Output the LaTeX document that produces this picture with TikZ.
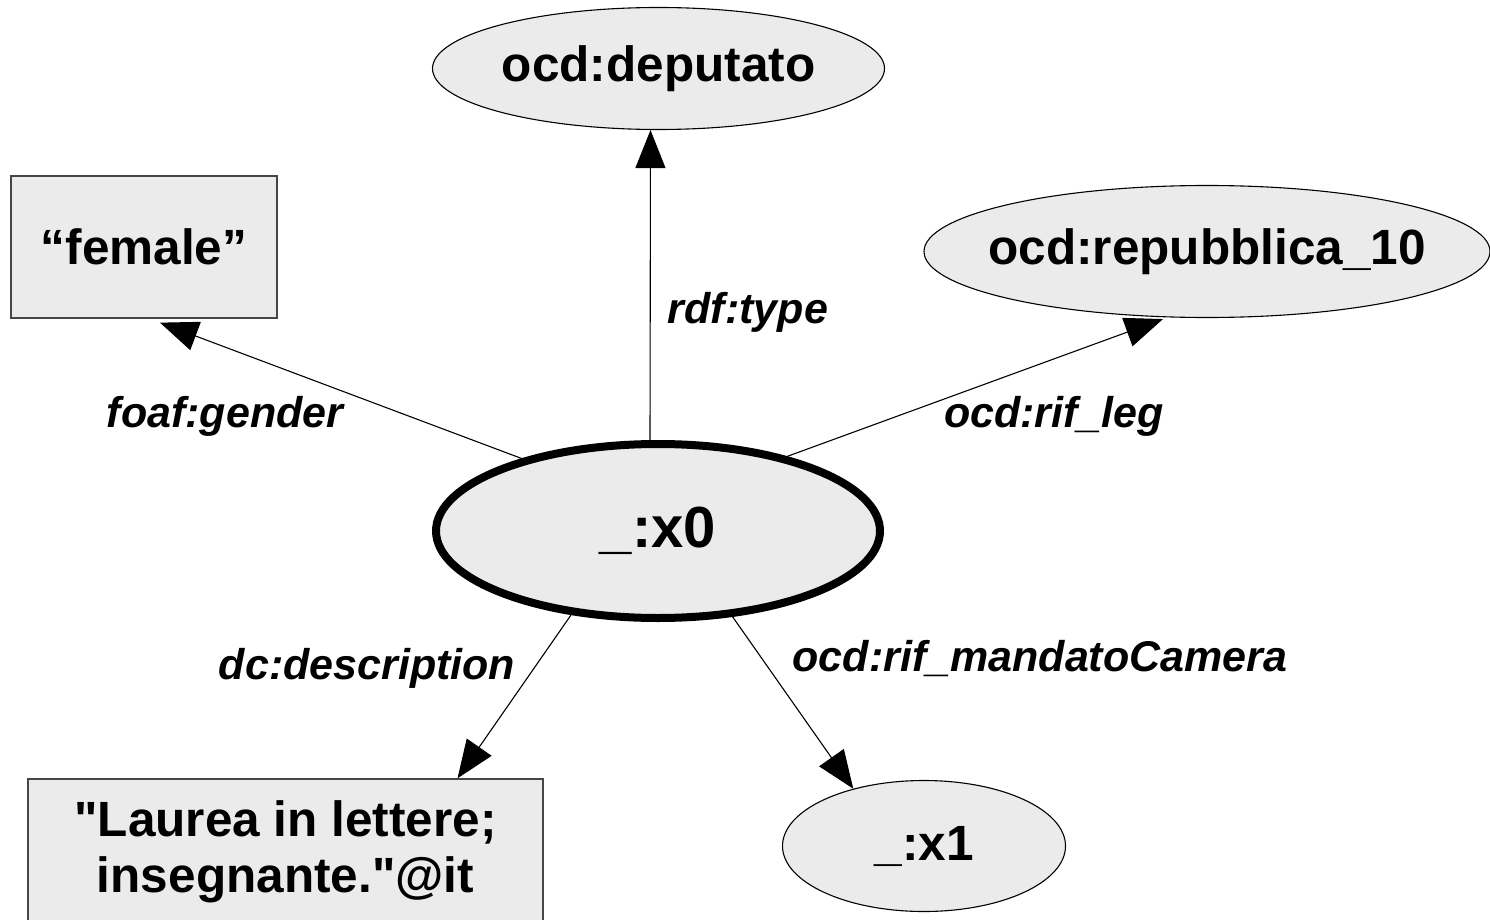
\documentclass[tikz,border=0pt]{standalone}
\usepackage{fontspec}
\setmainfont{Liberation Sans}
\usetikzlibrary{arrows.meta,shapes.geometric}
\definecolor{nodefill}{RGB}{235,235,235}
\definecolor{rectline}{RGB}{70,70,70}
\tikzset{
  mainfont/.style={font=\fontsize{49.5}{56}\selectfont\bfseries},
  lblfont/.style={font=\fontsize{43}{48}\selectfont\bfseries\itshape},
  ellnode/.style={ellipse, draw=black, fill=nodefill, line width=1.1pt, inner sep=0pt, mainfont},
  rectnode/.style={rectangle, draw=rectline, fill=nodefill, line width=1.3pt, inner sep=0pt, mainfont, align=center},
  arr/.style={line width=1.1pt, -{Triangle[length=38pt,width=30pt]}},
  lbl/.style={anchor=base, inner sep=0pt, lblfont}
}
\begin{document}
\begin{tikzpicture}[x=1pt,y=-1pt]
\useasboundingbox (0,0) rectangle (1490,920);
% nodes
\node[ellnode, minimum width=452pt, minimum height=122pt] (dep) at (658.5,68.5) {\makebox[0pt]{ocd:deputato}};
\node[ellnode, minimum width=566pt, minimum height=132pt] (rep) at (1207,251.5) {\makebox[0pt]{ocd:repubblica\_10}};
\node[rectnode, minimum width=266pt, minimum height=142pt] (fem) at (144,247) {“female”};
\node[ellnode, line width=8pt, minimum width=444pt, minimum height=174pt, font=\fontsize{58}{64}\selectfont\bfseries] (x0) at (658,531) {\makebox[0pt]{\raisebox{-5pt}{\_:x0}}};
\node[rectnode, minimum width=515pt, minimum height=146pt] (lau) at (285.5,852) {\textquotedbl Laurea in lettere;\\insegnante.\textquotedbl @it};
\node[ellnode, minimum width=283pt, minimum height=131pt] (x1) at (924,846) {\makebox[0pt]{\_:x1}};
% connectors
\draw[arr] ([xshift=-8pt]x0.north) -- ([xshift=-8pt]dep.south);
\draw[arr] (x0.152) -- ([xshift=16pt,yshift=-4pt]fem.south);
\draw[arr] (x0.30) -- ([xshift=-44pt,yshift=-1pt]rep.south);
\draw[arr] (x0.224) -- ([xshift=172pt]lau.north);
\draw[arr] (x0.311) -- (x1.141);
% labels
\node[lbl] (l1) at (748,323) {rdf:type};
\node[lbl] (l2) at (225,427) {foaf:gender};
\node[lbl] (l3) at (1054,427) {ocd:rif\_leg};
\node[lbl] (l4) at (367,679) {dc:description};
\node[lbl] (l5) at (1040,671) {ocd:rif\_mandatoCamera};
\end{tikzpicture}
\end{document}
